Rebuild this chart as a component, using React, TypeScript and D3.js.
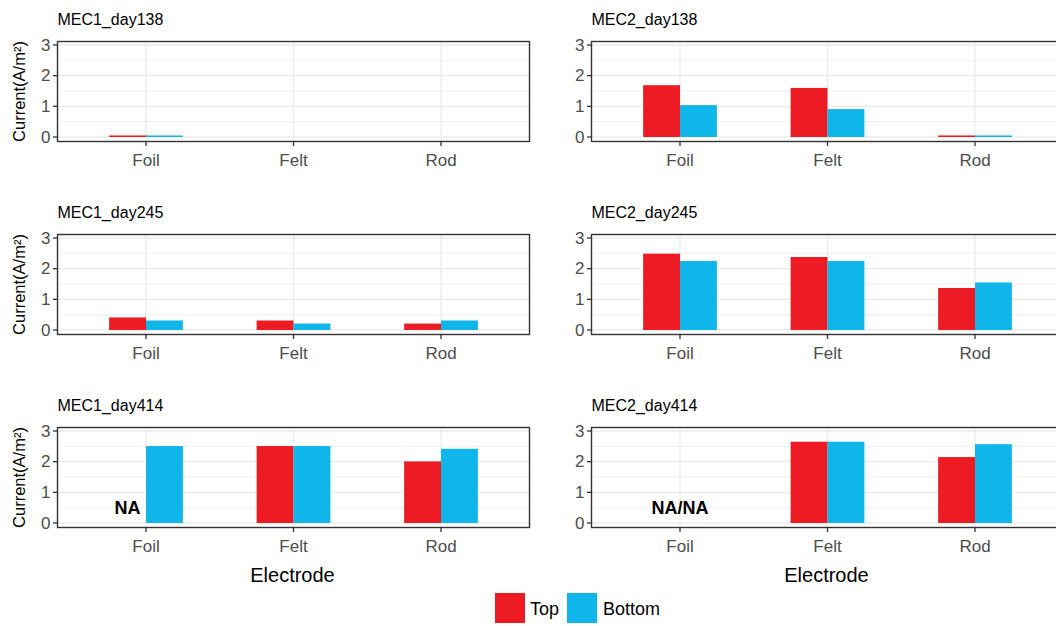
import React from "react";
import * as d3 from "d3";

const categories = ["Foil", "Felt", "Rod"];
const panelTitles = ["MEC1_day138", "MEC2_day138", "MEC1_day245", "MEC2_day245", "MEC1_day414", "MEC2_day414"];
const seriesNames = ["Top", "Bottom"];
const seriesColors = ["#ED1C24", "#10B5EA"];
const topValues: (number | null)[][] = [
  [0.05, 0, 0],
  [1.69, 1.6, 0.05],
  [0.41, 0.31, 0.21],
  [2.49, 2.38, 1.37],
  [null, 2.51, 2.01],
  [null, 2.65, 2.15],
];
const bottomValues: (number | null)[][] = [
  [0.05, 0, 0],
  [1.04, 0.91, 0.05],
  [0.31, 0.21, 0.31],
  [2.25, 2.25, 1.55],
  [2.51, 2.51, 2.42],
  [null, 2.65, 2.57],
];
const yTicks = [0, 1, 2, 3];
const yMinorTicks = [0.5, 1.5, 2.5];
// NA annotations: panel index, label, anchor ("Top" dodge position or centre), value
const naLabels = [
  { panel: 4, text: "NA", at: "Top", value: 0.5 },
  { panel: 5, text: "NA/NA", at: "center", value: 0.5 },
];

const W = 1056;
const H = 626;
const FONT = "'Liberation Sans', Arial, Helvetica, sans-serif";
const panelW = 472;
const panelH = 100;
const colX = [57.5, 591.5];
const rowY = [41.5, 234.5, 427.5];

export default function App() {
  const panels = panelTitles.map((title, i) => {
    const col = i % 2;
    const row = Math.floor(i / 2);
    const x0 = colX[col];
    const y0 = rowY[row];
    const x = d3.scalePoint<string>().domain(categories).range([x0, x0 + panelW]).padding(0.6);
    const step = x.step();
    const bw = step * 0.25;
    const y = d3.scaleLinear().domain([0, 3]).range([y0 + 95.5, y0 + 3.5]);
    const series = [topValues[i], bottomValues[i]];
    return (
      <g key={title}>
        <text x={x0} y={y0 - 17} fontSize={16} fill="#000" fontFamily={FONT}>
          {title}
        </text>
        <rect x={x0} y={y0} width={panelW} height={panelH} fill="#fff" />
        {yMinorTicks.map((t) => (
          <line key={"mi" + t} x1={x0} x2={x0 + panelW} y1={y(t)} y2={y(t)} stroke="#EBEBEB" strokeWidth={0.8} />
        ))}
        {yTicks.map((t) => (
          <line key={"ma" + t} x1={x0} x2={x0 + panelW} y1={y(t)} y2={y(t)} stroke="#EBEBEB" strokeWidth={1.3} />
        ))}
        {categories.map((c) => (
          <line key={"v" + c} x1={x(c)!} x2={x(c)!} y1={y0} y2={y0 + panelH} stroke="#EBEBEB" strokeWidth={1.3} />
        ))}
        {series.map((vals, s) =>
          vals.map((v, j) =>
            v == null || v <= 0 ? null : (
              <rect
                key={s + "-" + j}
                x={x(categories[j])! - bw + s * bw}
                y={y(v)}
                width={bw}
                height={y(0) - y(v)}
                fill={seriesColors[s]}
              />
            )
          )
        )}
        {naLabels
          .filter((n) => n.panel === i)
          .map((n) => (
            <text
              key={n.text}
              x={n.at === "Top" ? x(categories[0])! - bw / 2 : x(categories[0])!}
              y={y(n.value)}
              textAnchor="middle"
              dominantBaseline="central"
              fontSize={18}
              fontWeight="bold"
              fill="#000"
              fontFamily={FONT}
            >
              {n.text}
            </text>
          ))}
        <rect x={x0} y={y0} width={panelW} height={panelH} fill="none" stroke="#333" strokeWidth={1.4} />
        {yTicks.map((t) => (
          <g key={"yt" + t}>
            <line x1={x0 - 4.5} x2={x0} y1={y(t)} y2={y(t)} stroke="#333" strokeWidth={1.3} />
            <text
              x={x0 - 7}
              y={y(t)}
              textAnchor="end"
              dominantBaseline="central"
              fontSize={17}
              fill="#4D4D4D"
              fontFamily={FONT}
            >
              {t}
            </text>
          </g>
        ))}
        {categories.map((c) => (
          <g key={"xt" + c}>
            <line x1={x(c)!} x2={x(c)!} y1={y0 + panelH} y2={y0 + panelH + 4.5} stroke="#333" strokeWidth={1.3} />
            <text x={x(c)!} y={y0 + panelH + 24} textAnchor="middle" fontSize={17} fill="#4D4D4D" fontFamily={FONT}>
              {c}
            </text>
          </g>
        ))}
        {col === 0 && (
          <text
            transform={`translate(19,${y0 + panelH / 2}) rotate(-90)`}
            textAnchor="middle"
            dominantBaseline="central"
            fontSize={16.5}
            fill="#000"
            fontFamily={FONT}
          >
            Current(A/m²)
          </text>
        )}
        {row === 2 && (
          <text x={x0 + panelW / 2 - 1} y={582} textAnchor="middle" fontSize={20} fill="#000" fontFamily={FONT}>
            Electrode
          </text>
        )}
      </g>
    );
  });

  const legendKeys = [
    { keyX: 495, textX: 530 },
    { keyX: 567, textX: 603 },
  ];

  return (
    <svg
      width={W}
      height={H}
      viewBox={`0 0 ${W} ${H}`}
      style={{ position: "absolute", left: 0, top: 0, display: "block", background: "#fff" }}
    >
      <rect x={0} y={0} width={W} height={H} fill="#fff" />
      {panels}
      {seriesNames.map((name, s) => (
        <g key={name}>
          <rect x={legendKeys[s].keyX} y={593} width={30} height={30} fill={seriesColors[s]} />
          <text x={legendKeys[s].textX} y={615} fontSize={18} fill="#000" fontFamily={FONT}>
            {name}
          </text>
        </g>
      ))}
    </svg>
  );
}
